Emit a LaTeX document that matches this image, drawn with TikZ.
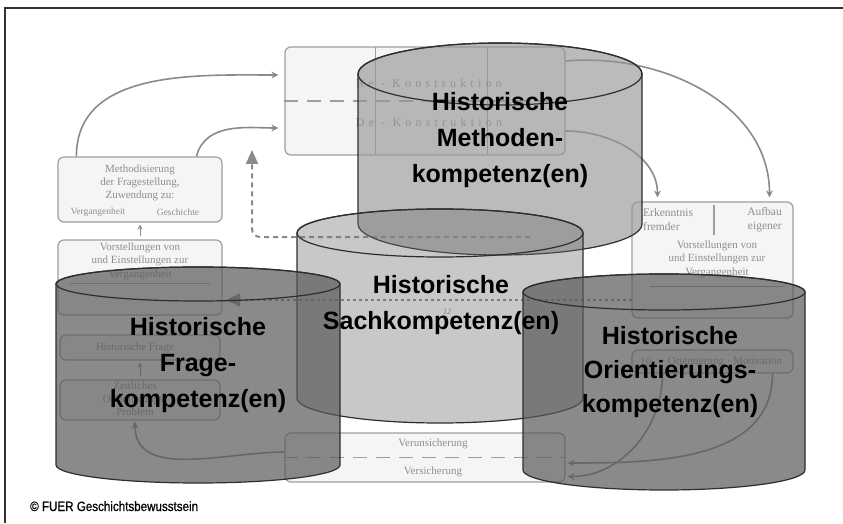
\documentclass[tikz,border=0pt]{standalone}
\usepackage{fontspec}
\setmainfont{Liberation Serif}
\newfontfamily\labelfont{Liberation Sans}
\newfontfamily\notefont{Liberation Sans}[FakeStretch=0.86,FakeBold=0.8]
\usetikzlibrary{arrows.meta,calc}

\definecolor{boxline}{HTML}{9E9E9E}
\definecolor{boxfill}{HTML}{F5F5F5}
\definecolor{boxtext}{HTML}{8E8E8E}
\definecolor{arrgray}{HTML}{8A8A8A}
\definecolor{cyledge}{HTML}{2E2E2E}
\definecolor{methfill}{gray}{0.59}
\definecolor{sachfill}{gray}{0.43}
\definecolor{darkfill}{gray}{0.35}

\tikzset{
  box/.style={draw=boxline, fill=boxfill, line width=1.2pt, rounded corners=6pt, inner sep=0pt},
  boxtxt/.style={text=boxtext, font=\fontsize{11}{13}\selectfont, align=center, inner sep=0pt},
  flow/.style={draw=arrgray, line width=1.6pt, -{Stealth[length=7pt,width=7pt]}},
  smallflow/.style={draw=arrgray, line width=1pt, -{Stealth[length=5pt,width=5pt]}, shorten >=2pt, shorten <=3pt},
  cylbody/.style={draw=cyledge, line width=1.2pt},
  cyllabel/.style={font=\labelfont\bfseries\fontsize{25}{36}\selectfont, align=center, text=black, inner sep=0pt},
}

\begin{document}
\begin{tikzpicture}[x=1pt,y=1pt]
    \useasboundingbox (0,0) rectangle (843,523);
    % Frame
    \draw[line width=1.5pt, black!80] (5,0) -- (5,515) -- (843,515);

    % Boxes behind the cylinders
    \node[box, minimum width=280pt, minimum height=108pt] (rekon) at (425,422) {};
    \draw[boxline, line width=1pt] (375,476) -- (375,368);
    \draw[boxline, line width=1pt] (487,476) -- (487,368);
    \draw[boxline, line width=1.5pt, dash pattern=on 14pt off 9pt] (rekon.west) -- (rekon.east);
    \node[boxtxt, font=\fontsize{12}{12}\selectfont\addfontfeature{LetterSpace=35}] (re) at (429,440) {Re - Konstruktion};
    \node[boxtxt, font=\fontsize{12}{12}\selectfont\addfontfeature{LetterSpace=35}] (de) at (429,401) {De - Konstruktion};

    \node[box, minimum width=164pt, minimum height=65pt] (meth) at (140,333.5) {};
    \node[boxtxt] (methtxt) at (140,340) {Methodisierung\\der Fragestellung,\\Zuwendung zu:};
    \node[boxtxt, font=\fontsize{9.5}{10}\selectfont] (verg) at (98,311) {Vergangenheit};
    \node[boxtxt, font=\fontsize{9.5}{10}\selectfont] (gesch) at (178,311) {Geschichte};

    \node[box, minimum width=164pt, minimum height=75pt] (vorst) at (140,245.5) {};
    \node[boxtxt, font=\fontsize{11}{13.5}\selectfont] (vorsttxt) at (140,262) {Vorstellungen von\\und Einstellungen zur\\Vergangenheit};
    \draw[boxline, line width=1pt] (70,240) -- (210,240);

    \node[box, minimum width=160pt, minimum height=25pt] (frage) at (140,175.5) {};
    \node[boxtxt] (fragetxt) at (135,175) {Historische Frage};
    \node[box, minimum width=160pt, minimum height=40pt] (probl) at (140,123) {};
    \node[boxtxt] (probltxt) at (135,124) {Zeitliches\\Orientierungs-\\Problem};
    \draw[smallflow] (vorst.north) -- (meth.south);
    \draw[smallflow] (probl.north) -- (frage.south);

    \node[box, minimum width=280pt, minimum height=49pt] (versich) at (425,65.5) {};
    \draw[boxline, line width=1.5pt, dash pattern=on 14pt off 9pt] (versich.west) -- (versich.east);
    \node[boxtxt] (unsich) at (433,79) {Verunsicherung};
    \node[boxtxt] (sich) at (433,51) {Versicherung};

    \node[box, minimum width=161pt, minimum height=116pt] (erkennt) at (712.5,263) {};
    \node[boxtxt, font=\fontsize{11.5}{14}\selectfont, anchor=west, align=left] (fremd) at (643,303) {Erkenntnis\\fremder};
    \node[boxtxt, font=\fontsize{11.5}{14}\selectfont, anchor=east, align=right] (eigen) at (782,303) {Aufbau\\eigener};
    \draw[boxline, line width=1.5pt] (714,318) -- (714,288);
    \node[boxtxt, font=\fontsize{11}{13.5}\selectfont] (vorsttxt2) at (717,264) {Vorstellungen von\\und Einstellungen zur\\Vergangenheit};
    \draw[boxline, line width=1pt] (650,237) -- (785,237);
    \node[box, minimum width=161pt, minimum height=23pt] (orientbox) at (712.5,161.5) {};
    \node[boxtxt, anchor=west] (ten) at (640,161) {\itshape 10};
    \node[boxtxt] (orienttxt) at (725,161) {Orientierung · Motivation};
    \node[boxtxt, font=\fontsize{8}{8}\selectfont\itshape] (twelve) at (447,211) {12};

    % Arrows between the boxes
    \draw[flow, shorten >=6pt] ([xshift=19pt]meth.north west) to[out=90,in=180] ([yshift=26pt]rekon.west);
    \draw[flow, shorten >=6pt] ([xshift=139pt]meth.north west) to[out=75,in=180] ([yshift=-27pt]rekon.west);
    \draw[flow, shorten >=4pt] ([yshift=-30pt]rekon.east) to[out=0,in=90] ([xshift=-55pt]erkennt.north);
    \draw[flow, shorten >=4pt] ([yshift=40pt]rekon.east) to[out=5,in=90] ([xshift=57pt]erkennt.north);
    \draw[flow, shorten >=1pt] ([yshift=5.5pt]versich.west) to[out=180,in=-90] ([xshift=-5pt]probl.south);
    \draw[flow, shorten >=2pt] ([xshift=60pt]orientbox.south) to[out=-90,in=0] ([yshift=-5.5pt]versich.east);
    \draw[flow, shorten >=2pt] ([xshift=-50pt]orientbox.south) to[out=-90,in=0] ([yshift=-19pt]versich.east);

    % Dashed and dotted returns
    \coordinate (dashstart) at (530,286);
    \coordinate (dashtip) at (252,373);
    \draw[arrgray, line width=2pt, dash pattern=on 5pt off 4pt, rounded corners=8pt, -{Triangle[length=14pt,width=12pt]}] (dashstart) -- (dashtip |- dashstart) -- (dashtip);
    \coordinate (dotstart) at (632,223);
    \coordinate (dottip) at (226,223);
    \draw[arrgray, line width=1.3pt, dash pattern=on 3pt off 3pt, -{Triangle[length=14pt,width=13pt]}] (dotstart) -- (dottip);

    % Draw the cylinders
    \draw[cylbody, fill=methfill, fill opacity=0.65] (358,449) -- (358,299) arc[start angle=180, end angle=360, x radius=142, y radius=31] -- (642,449) arc[start angle=0, end angle=180, x radius=142, y radius=31] -- cycle;
    \draw[cylbody] (500,449) ellipse[x radius=142, y radius=31];

    \draw[cylbody, fill=sachfill, fill opacity=0.38] (297,290) -- (297,125) arc[start angle=180, end angle=360, x radius=143, y radius=25] -- (583,290) arc[start angle=0, end angle=180, x radius=143, y radius=24] -- cycle;
    \draw[cylbody] (440,290) ellipse[x radius=143, y radius=24];

    \draw[cylbody, fill=darkfill, fill opacity=0.7] (56,239) -- (56,58) arc[start angle=180, end angle=360, x radius=142, y radius=18] -- (340,239) arc[start angle=0, end angle=180, x radius=142, y radius=17] -- cycle;
    \draw[cylbody] (198,239) ellipse[x radius=142, y radius=17];

    \draw[cylbody, fill=darkfill, fill opacity=0.7] (523,231) -- (523,53) arc[start angle=180, end angle=360, x radius=141, y radius=20] -- (805,231) arc[start angle=0, end angle=180, x radius=141, y radius=18] -- cycle;
    \draw[cylbody] (664,231) ellipse[x radius=141, y radius=18];

    % Provide the labels
    \node[cyllabel] (methlabel) at (500,383) {Historische\\Methoden-\\kompetenz(en)};
    \node[cyllabel] (sachlabel) at (441,218) {Historische\\Sachkompetenz(en)};
    \node[cyllabel] (fragelabel) at (198,158) {Historische\\Frage-\\kompetenz(en)};
    \node[cyllabel, font=\labelfont\bfseries\fontsize{25}{34}\selectfont] (orientlabel) at (670,151) {Historische\\Orientierungs-\\kompetenz(en)};

    \node[anchor=base west, font=\notefont\fontsize{13.5}{13.5}\selectfont, inner sep=0pt] (copy) at (30,12) {© FUER Geschichtsbewusstsein};
\end{tikzpicture}
\end{document}
